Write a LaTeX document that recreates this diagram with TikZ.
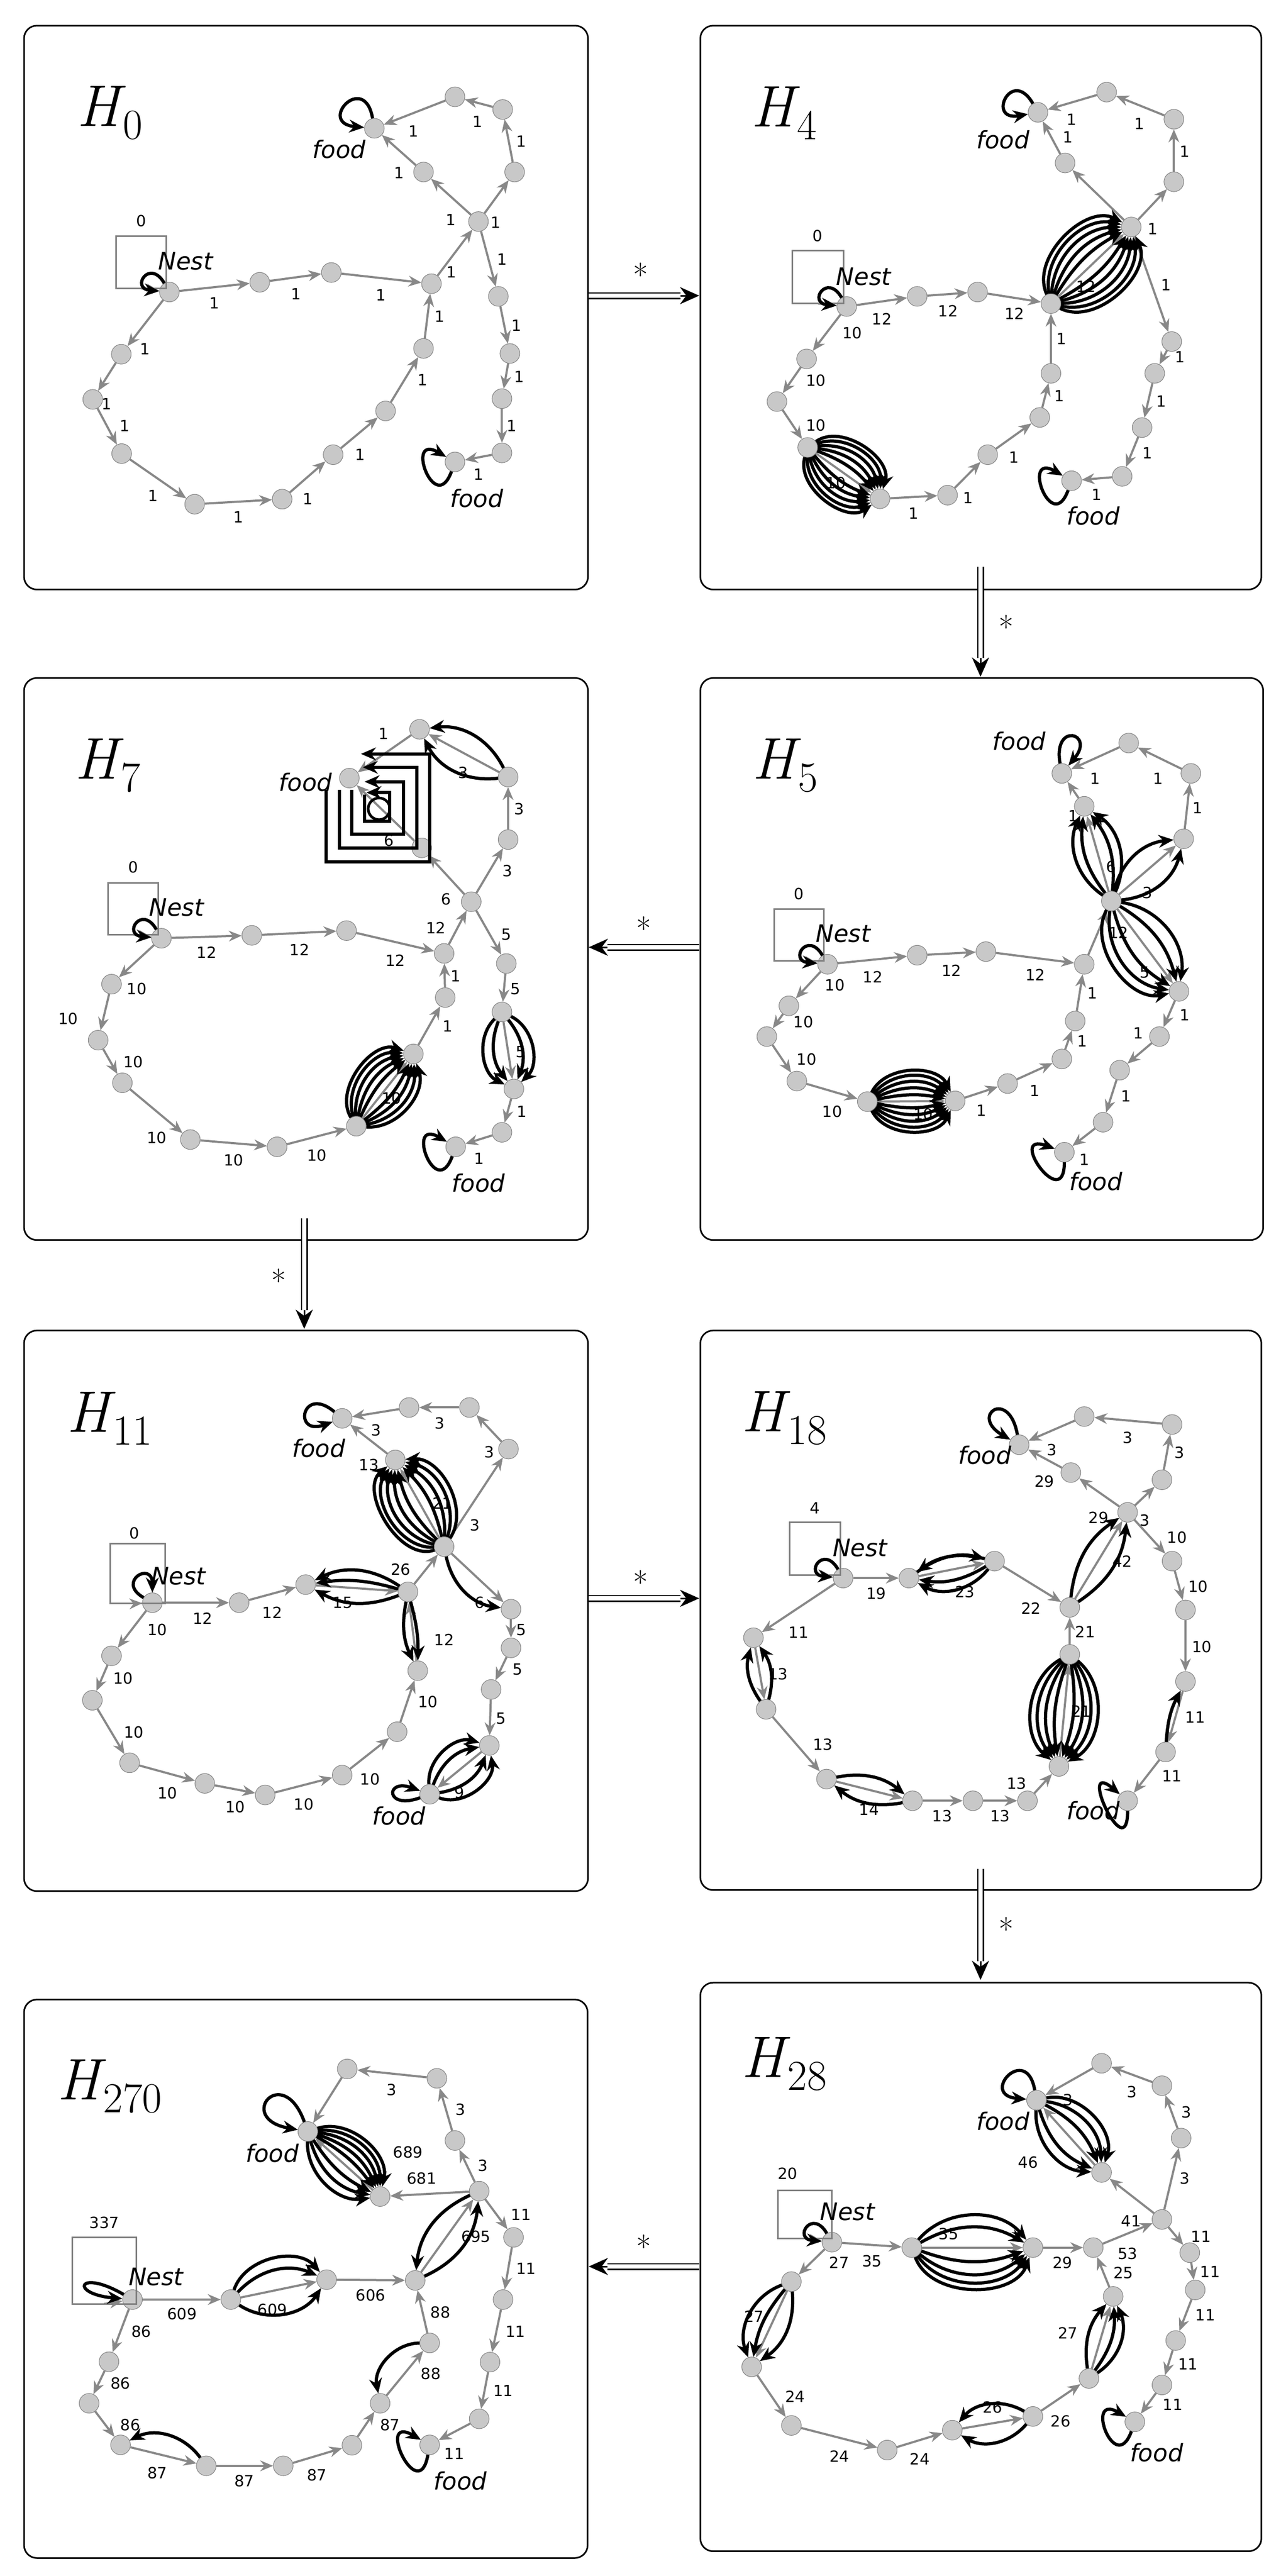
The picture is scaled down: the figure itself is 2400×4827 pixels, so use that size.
\documentclass[tikz,border=0pt]{standalone}
\usepackage{fontspec}
\setmainfont{Latin Modern Roman}
\setsansfont{DejaVu Sans}
\usetikzlibrary{arrows.meta,calc}
\definecolor{nodegray}{HTML}{C8C8C8}
\definecolor{edgegray}{HTML}{888888}
\newcounter{lc}
\tikzset{
 v/.style={circle,fill=nodegray,draw=gray,line width=1pt,minimum size=37pt,inner sep=0pt},
 e/.style={draw=edgegray,line width=4pt,-{Stealth[length=24pt,width=20pt]}},
 fan/.style={draw=black,line width=6pt,-{Stealth[length=28pt,width=24pt]}},
 lab/.style={font=\sffamily\fontsize{29}{29}\selectfont,inner sep=0pt},
 txt/.style={font=\sffamily\itshape\fontsize{45}{45}\selectfont,inner sep=0pt},
 ttl/.style={font=\fontsize{110}{120}\selectfont,inner sep=0pt},
 nbox/.style={draw=gray,line width=3pt},
 pbox/.style={draw=black,line width=3pt,rounded corners=24pt},
 dbl/.style={draw=black,double=white,line width=2.5pt,double distance=8pt},
 tip/.style={draw=black,line width=3pt,-{Stealth[length=36pt,width=32pt]}},
}
\newcommand\Ttl[1]{\textit{H}\kern-0.05em\raisebox{-0.22em}{\fontsize{80}{80}\selectfont #1}}
\newcommand\Nd[3]{\node[v] (#1) at (#2,#3) {};}
\newcommand\Ed[2]{\draw[e] (#1) -- (#2);}
\newcommand\Lb[3]{\stepcounter{lc}\node[lab] (lab\arabic{lc}) at (#1,#2) {#3};}
\newcommand\Fan[3]{\foreach \b in {#3}{\draw[fan] (#1) to[bend left=\b] (#2);}}
\newcommand\Lp[4]{\path (#1) edge[fan,out=#2,in=#3,looseness=8,min distance=#4pt] (#1);}
\newcommand\stdgraph[1]{%
\Ed{#1n0}{#1a1}\Ed{#1a1}{#1a2}\Ed{#1a2}{#1a3}\Ed{#1a3}{#1hub}%
\Ed{#1n0}{#1b1}\Ed{#1b1}{#1b2}\Ed{#1b2}{#1b3}\Ed{#1b3}{#1b4}\Ed{#1b4}{#1b5}%
\Ed{#1b5}{#1b6}\Ed{#1b6}{#1b7}\Ed{#1b7}{#1b8}\Ed{#1b8}{#1a3}%
\Ed{#1hub}{#1c1}\Ed{#1c1}{#1f1}\Ed{#1hub}{#1c2}\Ed{#1c2}{#1c3}\Ed{#1c3}{#1c4}\Ed{#1c4}{#1f1}%
\Ed{#1hub}{#1d1}\Ed{#1d1}{#1d2}\Ed{#1d2}{#1d3}\Ed{#1d3}{#1d4}\Ed{#1d4}{#1f2}}
\newcommand\Nest[9]{%
\draw[nbox] (#5,#6) rectangle (#7,#8);
\stepcounter{lc}\node[lab] (lab\arabic{lc}) at (#3,#4) {#2};
\coordinate (#1nb) at ($(#5,#8)!0.5!(#7,#8)$);
\draw[e] (#1nb) -- (#1n0);
\node[txt] (#1nest) at (#9,#8-75) {Nest};}
\begin{document}
\begin{tikzpicture}[x=1pt,y=-1pt]
\useasboundingbox (0,0) rectangle (2400,4827);
\def\sc{0.6773pt}
%%%%%%%%%%%%%%%% H0
\begin{scope}[shift={(43,46)},x=\sc,y=-\sc]
\draw[pbox] (3,3) rectangle (1563,1563);
\node[ttl] (At) at (240,245) {\Ttl{0}};
\Nd{An0}{405}{740}\Nd{Aa1}{655}{713}\Nd{Aa2}{853}{686}\Nd{Aa3}{1130}{717}\Nd{Ahub}{1260}{545}
\Nd{Ab1}{272}{912}\Nd{Ab2}{193}{1037}\Nd{Ab3}{273}{1187}\Nd{Ab4}{475}{1327}\Nd{Ab5}{717}{1313}
\Nd{Ab6}{858}{1190}\Nd{Ab7}{1003}{1069}\Nd{Ab8}{1108}{896}
\Nd{Ac1}{1108}{408}\Nd{Af1}{972}{287}\Nd{Ac2}{1360}{408}\Nd{Ac3}{1327}{235}\Nd{Ac4}{1195}{200}
\Nd{Ad1}{1315}{752}\Nd{Ad2}{1347}{910}\Nd{Ad3}{1325}{1035}\Nd{Ad4}{1325}{1185}\Nd{Af2}{1195}{1210}
\stdgraph{A}
\Nest{A}{0}{327}{543}{258}{585}{397}{730}{450}
\Lp{An0}{120}{175}{55}\Lp{Af1}{100}{175}{90}\Lp{Af2}{250}{150}{90}
\node[txt] (Aft1) at (875,345) {food};\node[txt] (Aft2) at (1255,1310) {food};
\Lb{530}{770}{1}\Lb{755}{745}{1}\Lb{990}{748}{1}\Lb{1185}{685}{1}\Lb{338}{897}{1}\Lb{232}{1050}{1}
\Lb{282}{1110}{1}\Lb{360}{1303}{1}\Lb{596}{1362}{1}\Lb{788}{1313}{1}\Lb{932}{1190}{1}\Lb{1105}{983}{1}
\Lb{1153}{808}{1}\Lb{1183}{540}{1}\Lb{1040}{410}{1}\Lb{1308}{548}{1}\Lb{1378}{323}{1}\Lb{1258}{268}{1}
\Lb{1080}{295}{1}\Lb{1325}{650}{1}\Lb{1365}{833}{1}\Lb{1372}{975}{1}\Lb{1352}{1110}{1}\Lb{1260}{1245}{1}
\end{scope}
%%%%%%%%%%%%%%%% H4
\begin{scope}[shift={(1310,46)},x=\sc,y=-\sc]
\draw[pbox] (3,3) rectangle (1555,1563);
\node[ttl] (Bt) at (235,245) {\Ttl{4}};
\Nd{Bn0}{408}{780}\Nd{Ba1}{603}{752}\Nd{Ba2}{770}{740}\Nd{Ba3}{973}{772}\Nd{Bhub}{1195}{560}
\Nd{Bb1}{297}{925}\Nd{Bb2}{215}{1043}\Nd{Bb3}{300}{1170}\Nd{Bb4}{500}{1312}\Nd{Bb5}{687}{1302}
\Nd{Bb6}{798}{1190}\Nd{Bb7}{942}{1087}\Nd{Bb8}{973}{965}
\Nd{Bc1}{1012}{383}\Nd{Bf1}{937}{243}\Nd{Bc2}{1313}{435}\Nd{Bc3}{1313}{262}\Nd{Bc4}{1127}{187}
\Nd{Bd1}{1307}{877}\Nd{Bd2}{1260}{965}\Nd{Bd3}{1225}{1115}\Nd{Bd4}{1170}{1250}\Nd{Bf2}{1030}{1262}
\stdgraph{B}
\Fan{Bb3}{Bb4}{15,29,43,57,71,-15,-29,-43,-57,-71}
\Fan{Ba3}{Bhub}{15,29,43,57,71,-15,-29,-43,-57,-71}
\Nest{B}{0}{328}{585}{258}{625}{400}{772}{455}
\Lp{Bn0}{120}{175}{55}\Lp{Bf1}{120}{190}{80}\Lp{Bf2}{250}{150}{90}
\node[txt] (Bft1) at (840,318) {food};\node[txt] (Bft2) at (1090,1360) {food};
\Lb{505}{815}{12}\Lb{688}{793}{12}\Lb{872}{800}{12}\Lb{1070}{725}{12}\Lb{423}{853}{10}\Lb{323}{985}{10}
\Lb{323}{1108}{10}\Lb{378}{1268}{10}\Lb{593}{1352}{1}\Lb{743}{1310}{1}\Lb{870}{1197}{1}\Lb{996}{1028}{1}
\Lb{1002}{870}{1}\Lb{1020}{312}{1}\Lb{1030}{263}{1}\Lb{1218}{275}{1}\Lb{1343}{352}{1}\Lb{1255}{565}{1}
\Lb{1292}{720}{1}\Lb{1330}{920}{1}\Lb{1278}{1042}{1}\Lb{1240}{1185}{1}\Lb{1100}{1300}{1}
\end{scope}
%%%%%%%%%%%%%%%% H7
\begin{scope}[shift={(43,1265)},x=\sc,y=-\sc]
\draw[pbox] (3,8) rectangle (1563,1563);
\node[ttl] (Ct) at (235,250) {\Ttl{7}};
\Nd{Cn0}{383}{728}\Nd{Ca1}{633}{720}\Nd{Ca2}{895}{707}\Nd{Ca3}{1165}{770}\Nd{Chub}{1240}{627}
\Nd{Cb1}{245}{855}\Nd{Cb2}{208}{1010}\Nd{Cb3}{275}{1128}\Nd{Cb4}{463}{1285}\Nd{Cb5}{703}{1305}
\Nd{Cb6}{922}{1248}\Nd{Cb7}{1080}{1048}\Nd{Cb8}{1168}{892}
\Nd{Cc1}{1103}{478}\Nd{Cf1}{903}{285}\Nd{Cc2}{1342}{455}\Nd{Cc3}{1342}{282}\Nd{Cc4}{1097}{150}
\Nd{Cd1}{1337}{798}\Nd{Cd2}{1325}{932}\Nd{Cd3}{1358}{1145}\Nd{Cd4}{1325}{1265}\Nd{Cf2}{1197}{1305}
\stdgraph{C}
\Fan{Cb6}{Cb7}{14,28,42,56,70,-14,-28,-42,-56}
\Fan{Cd2}{Cd3}{30,55,-30,-55}
\Fan{Cc3}{Cc4}{35,-35}
\draw[fan] (838,318)--(838,517)--(1125,517)--(1125,218)--(935,218);
\draw[fan] (875,318)--(875,478)--(1090,478)--(1090,255)--(940,255);
\draw[fan] (910,318)--(910,440)--(1053,440)--(1053,295)--(945,295);
\draw[fan] (945,330)--(945,405)--(1015,405)--(1015,325)--(950,325);
\draw[black,line width=5pt] (985,370) circle (30);
\Nest{C}{0}{305}{532}{235}{575}{375}{718}{425}
\Lp{Cn0}{120}{175}{55}\Lp{Cf2}{250}{150}{80}
\node[txt] (Cft1) at (782,297) {food};\node[txt] (Cft2) at (1260,1405) {food};
\Lb{508}{767}{12}\Lb{765}{760}{12}\Lb{1030}{790}{12}\Lb{1142}{700}{12}\Lb{315}{868}{10}\Lb{125}{950}{10}
\Lb{305}{1070}{10}\Lb{370}{1280}{10}\Lb{583}{1342}{10}\Lb{813}{1328}{10}\Lb{1020}{1170}{10}\Lb{1175}{972}{1}
\Lb{1197}{833}{1}\Lb{1170}{620}{6}\Lb{1013}{458}{6}\Lb{1340}{542}{3}\Lb{1372}{370}{3}\Lb{1218}{270}{3}
\Lb{998}{162}{1}\Lb{1337}{717}{5}\Lb{1362}{868}{5}\Lb{1377}{1042}{5}\Lb{1380}{1208}{1}\Lb{1262}{1337}{1}
\end{scope}
%%%%%%%%%%%%%%%% H5
\begin{scope}[shift={(1310,1265)},x=\sc,y=-\sc]
\draw[pbox] (3,8) rectangle (1560,1563);
\node[ttl] (Dt) at (238,250) {\Ttl{5}};
\Nd{Dn0}{355}{800}\Nd{Da1}{603}{775}\Nd{Da2}{793}{765}\Nd{Da3}{1065}{800}\Nd{Dhub}{1140}{625}
\Nd{Db1}{248}{915}\Nd{Db2}{187}{1000}\Nd{Db3}{270}{1123}\Nd{Db4}{465}{1180}\Nd{Db5}{708}{1178}
\Nd{Db6}{853}{1130}\Nd{Db7}{1003}{1062}\Nd{Db8}{1040}{957}
\Nd{Dc1}{1065}{363}\Nd{Df1}{1003}{272}\Nd{Dc2}{1340}{453}\Nd{Dc3}{1360}{272}\Nd{Dc4}{1188}{188}
\Nd{Dd1}{1327}{875}\Nd{Dd2}{1273}{1000}\Nd{Dd3}{1163}{1093}\Nd{Dd4}{1117}{1237}\Nd{Df2}{1010}{1320}
\stdgraph{D}
\Fan{Db4}{Db5}{12,25,38,51,64,-12,-25,-38,-51,-64}
\Fan{Dhub}{Dc1}{22,40,-22,-40}
\Fan{Dhub}{Dc2}{35,-35}
\Fan{Dhub}{Dd1}{22,45,-22,-45,-65}
\Nest{D}{0}{275}{605}{207}{647}{345}{790}{398}
\Lp{Dn0}{120}{175}{55}\Lp{Df1}{100}{50}{80}\Lp{Df2}{270}{160}{90}
\node[txt] (Dft1) at (885,183) {food};\node[txt] (Dft2) at (1097,1400) {food};
\Lb{480}{835}{12}\Lb{698}{818}{12}\Lb{930}{830}{12}\Lb{1160}{712}{12}\Lb{375}{858}{10}\Lb{288}{960}{10}
\Lb{297}{1063}{10}\Lb{368}{1208}{10}\Lb{620}{1215}{10}\Lb{780}{1205}{1}\Lb{928}{1150}{1}\Lb{1060}{1012}{1}
\Lb{1087}{880}{1}\Lb{1035}{390}{1}\Lb{1140}{530}{6}\Lb{1095}{287}{1}\Lb{1270}{287}{1}\Lb{1378}{367}{1}
\Lb{1240}{602}{3}\Lb{1233}{822}{5}\Lb{1343}{940}{1}\Lb{1215}{990}{1}\Lb{1180}{1165}{1}\Lb{1065}{1340}{1}
\end{scope}
%%%%%%%%%%%%%%%% H11
\begin{scope}[shift={(43,2485)},x=\sc,y=-\sc]
\draw[pbox] (3,12) rectangle (1563,1563);
\node[ttl] (Et) at (240,255) {\Ttl{11}};
\Nd{En0}{358}{765}\Nd{Ea1}{598}{765}\Nd{Ea2}{782}{715}\Nd{Ea3}{1065}{735}\Nd{Ehub}{1165}{610}
\Nd{Eb1}{245}{912}\Nd{Eb2}{192}{1035}\Nd{Eb3}{295}{1208}\Nd{Eb4}{503}{1265}\Nd{Eb5}{670}{1297}
\Nd{Eb6}{883}{1242}\Nd{Eb7}{1035}{1122}\Nd{Eb8}{1092}{953}
\Nd{Ec1}{1030}{370}\Nd{Ef1}{883}{255}\Nd{Ec2}{1343}{340}\Nd{Ec3}{1235}{225}\Nd{Ec4}{1068}{225}
\Nd{Ed1}{1350}{783}\Nd{Ed2}{1350}{890}\Nd{Ed3}{1295}{1005}\Nd{Ed4}{1290}{1160}\Nd{Ef2}{1125}{1295}
\stdgraph{E}
\Fan{Ehub}{Ec1}{16,32,48,64,80,-16,-32,-48,-64}
\Fan{Ehub}{Ed1}{-35}
\Fan{Ea3}{Ea2}{25,-12,-30}
\Fan{Ea3}{Eb8}{8,-18}
\Fan{Ef2}{Ed4}{30,55,-30,-60}
\Nest{E}{0}{308}{572}{242}{602}{393}{767}{430}
\Lp{En0}{150}{90}{60}\Lp{Ef1}{140}{200}{80}\Lp{Ef2}{200}{160}{70}
\node[txt] (Eft1) at (818,338) {food};\node[txt] (Eft2) at (1040,1355) {food};
\Lb{497}{808}{12}\Lb{690}{793}{12}\Lb{885}{765}{15}\Lb{1045}{673}{26}\Lb{372}{840}{10}\Lb{277}{975}{10}
\Lb{307}{1123}{10}\Lb{400}{1292}{10}\Lb{587}{1330}{10}\Lb{777}{1322}{10}\Lb{960}{1253}{10}\Lb{1120}{1040}{10}
\Lb{1165}{868}{12}\Lb{957}{383}{13}\Lb{977}{288}{3}\Lb{1160}{490}{21}\Lb{1250}{550}{3}\Lb{1290}{348}{3}
\Lb{1153}{268}{3}\Lb{1263}{765}{6}\Lb{1378}{840}{5}\Lb{1368}{950}{5}\Lb{1322}{1085}{5}\Lb{1207}{1290}{9}
\end{scope}
%%%%%%%%%%%%%%%% H18
\begin{scope}[shift={(1310,2485)},x=\sc,y=-\sc]
\draw[pbox] (3,12) rectangle (1555,1560);
\node[ttl] (Ft) at (235,255) {\Ttl{18}};
\Nd{Fn0}{398}{697}\Nd{Fa1}{580}{697}\Nd{Fa2}{817}{650}\Nd{Fa3}{1025}{778}\Nd{Fhub}{1185}{515}
\Nd{Fb1}{150}{862}\Nd{Fb2}{185}{1060}\Nd{Fb3}{352}{1253}\Nd{Fb4}{590}{1313}\Nd{Fb5}{757}{1313}
\Nd{Fb6}{908}{1313}\Nd{Fb7}{995}{1218}\Nd{Fb8}{1025}{908}
\Nd{Fc1}{1028}{405}\Nd{Ff1}{885}{328}\Nd{Fc2}{1280}{425}\Nd{Fc3}{1308}{272}\Nd{Fc4}{1065}{250}
\Nd{Fd1}{1308}{650}\Nd{Fd2}{1345}{785}\Nd{Fd3}{1345}{983}\Nd{Fd4}{1290}{1178}\Nd{Ff2}{1185}{1313}
\stdgraph{F}
\Fan{Fa2}{Fa1}{20,40,-25}
\Fan{Fa1}{Fa2}{25}
\Fan{Fa3}{Fhub}{25,-25}
\Fan{Fb2}{Fb1}{25,-25}
\Fan{Fb3}{Fb4}{25}\Fan{Fb4}{Fb3}{25}
\Fan{Fb8}{Fb7}{14,28,42,56,-14,-28,-42,-56}
\Fan{Fd4}{Fd3}{12}
\Nest{F}{4}{320}{503}{250}{543}{390}{688}{445}
\Lp{Fn0}{120}{175}{55}\Lp{Ff1}{100}{150}{90}\Lp{Ff2}{270}{140}{80}
\node[txt] (Fft1) at (790,357) {food};\node[txt] (Fft2) at (1090,1340) {food};
\Lb{490}{740}{19}\Lb{735}{735}{23}\Lb{918}{780}{22}\Lb{1105}{530}{29}\Lb{1170}{650}{42}\Lb{275}{847}{11}
\Lb{218}{962}{13}\Lb{342}{1158}{13}\Lb{470}{1337}{14}\Lb{672}{1355}{13}\Lb{832}{1355}{13}\Lb{878}{1265}{13}
\Lb{1057}{1065}{21}\Lb{1068}{845}{21}\Lb{955}{430}{29}\Lb{975}{343}{3}\Lb{1232}{537}{3}\Lb{1328}{350}{3}
\Lb{1185}{308}{3}\Lb{1322}{585}{10}\Lb{1380}{720}{10}\Lb{1390}{887}{10}\Lb{1372}{1082}{11}\Lb{1308}{1245}{11}
\end{scope}
%%%%%%%%%%%%%%%% H270
\begin{scope}[shift={(43,3740)},x=\sc,y=-\sc]
\draw[pbox] (3,10) rectangle (1562,1555);
\node[ttl] (Gt) at (240,250) {\Ttl{270}};
\Nd{Gn0}{303}{840}\Nd{Ga1}{575}{840}\Nd{Ga2}{840}{785}\Nd{Ga3}{1085}{787}\Nd{Ghub}{1262}{540}
\Nd{Gb1}{238}{1012}\Nd{Gb2}{183}{1127}\Nd{Gb3}{270}{1242}\Nd{Gb4}{507}{1300}\Nd{Gb5}{720}{1300}
\Nd{Gb6}{910}{1243}\Nd{Gb7}{988}{1127}\Nd{Gb8}{1125}{960}
\Nd{Gc1}{988}{555}\Nd{Gf1}{788}{375}\Nd{Gc2}{1195}{400}\Nd{Gc3}{1145}{228}\Nd{Gc4}{897}{202}
\Nd{Gd1}{1357}{668}\Nd{Gd2}{1328}{840}\Nd{Gd3}{1292}{1013}\Nd{Gd4}{1262}{1170}\Nd{Gf2}{1125}{1242}
\stdgraph{G}
\Fan{Gf1}{Gc1}{12,24,36,48,60,-15,-32,-50}
\Fan{Ga1}{Ga2}{35,60,-45}
\Fan{Ga3}{Ghub}{-30}\Fan{Ghub}{Ga3}{-30}
\Fan{Gb4}{Gb3}{-40}
\Fan{Gb8}{Gb7}{-50}
\Nest{G}{337}{225}{627}{137}{668}{313}{852}{368}
\Lp{Gn0}{150}{175}{100}\Lp{Gf1}{110}{170}{120}\Lp{Gf2}{260}{150}{100}
\node[txt] (Gft1) at (690,435) {food};\node[txt] (Gft2) at (1210,1342) {food};
\Lb{440}{880}{609}\Lb{690}{868}{609}\Lb{962}{828}{606}\Lb{1253}{665}{695}\Lb{327}{928}{86}\Lb{270}{1072}{86}
\Lb{297}{1187}{86}\Lb{372}{1320}{87}\Lb{612}{1342}{87}\Lb{813}{1325}{87}\Lb{1015}{1187}{87}\Lb{1128}{1045}{88}
\Lb{1155}{875}{88}\Lb{1103}{505}{681}\Lb{1065}{432}{689}\Lb{1273}{470}{3}\Lb{1210}{315}{3}\Lb{1020}{260}{3}
\Lb{1378}{605}{11}\Lb{1392}{755}{11}\Lb{1362}{928}{11}\Lb{1328}{1093}{11}\Lb{1193}{1267}{11}
\end{scope}
%%%%%%%%%%%%%%%% H28
\begin{scope}[shift={(1310,3705)},x=\sc,y=-\sc]
\draw[pbox] (3,15) rectangle (1555,1588);
\node[ttl] (Kt) at (235,240) {\Ttl{28}};
\Nd{Kn0}{367}{733}\Nd{Ka1}{588}{748}\Nd{Ka2}{923}{748}\Nd{Ka3}{1090}{748}\Nd{Khub}{1280}{670}
\Nd{Kb1}{255}{842}\Nd{Kb2}{145}{1078}\Nd{Kb3}{255}{1240}\Nd{Kb4}{520}{1308}\Nd{Kb5}{700}{1253}
\Nd{Kb6}{923}{1215}\Nd{Kb7}{1078}{1110}\Nd{Kb8}{1145}{883}
\Nd{Kc1}{1113}{540}\Nd{Kf1}{933}{340}\Nd{Kc2}{1333}{445}\Nd{Kc3}{1280}{300}\Nd{Kc4}{1113}{238}
\Nd{Kd1}{1357}{762}\Nd{Kd2}{1372}{865}\Nd{Kd3}{1318}{1005}\Nd{Kd4}{1280}{1128}\Nd{Kf2}{1205}{1230}
\stdgraph{K}
\Fan{Kf1}{Kc1}{20,40,60,-25,-45}
\Fan{Ka1}{Ka2}{30,50,-20,-40,-55,-70}
\Fan{Kb1}{Kb2}{30,-15,-45}
\Fan{Kb6}{Kb5}{40,-40}
\Fan{Kb7}{Kb8}{25,-20,-40}
\Nest{K}{20}{245}{543}{218}{590}{367}{723}{410}
\Lp{Kn0}{120}{175}{55}\Lp{Kf1}{100}{175}{90}\Lp{Kf2}{250}{150}{80}
\node[txt] (Kft1) at (840,398) {food};\node[txt] (Kft2) at (1265,1315) {food};
\Lb{478}{785}{35}\Lb{690}{710}{35}\Lb{1005}{790}{29}\Lb{1195}{675}{41}\Lb{1185}{765}{53}\Lb{387}{790}{27}
\Lb{152}{938}{27}\Lb{265}{1160}{24}\Lb{388}{1325}{24}\Lb{610}{1333}{24}\Lb{812}{1190}{26}\Lb{1000}{1228}{26}
\Lb{1020}{985}{27}\Lb{1173}{818}{25}\Lb{910}{512}{46}\Lb{1020}{340}{3}\Lb{1343}{557}{3}\Lb{1348}{373}{3}
\Lb{1197}{318}{3}\Lb{1388}{718}{11}\Lb{1413}{815}{11}\Lb{1400}{935}{11}\Lb{1352}{1070}{11}\Lb{1310}{1183}{11}
\end{scope}
%%%%%%%%%%%%%%%% transitions
\foreach \n/\sx/\sy/\tx/\ty/\mx/\my/\px/\py in {
 1/1103/554/1310/554/1275/554/1200/515,
 2/1837/1062/1837/1268/1837/1233/1885/1175,
 3/1310/1775/1103/1775/1138/1775/1206/1740,
 4/570/2283/570/2490/570/2455/522/2400,
 5/1103/2995/1310/2995/1275/2995/1200/2965,
 6/1837/3502/1837/3710/1837/3675/1885/3615,
 7/1310/4247/1103/4247/1138/4247/1206/4210}{
 \coordinate (s\n) at (\sx,\sy);
 \coordinate (t\n) at (\tx,\ty);
 \coordinate (m\n) at (\mx,\my);
 \draw[dbl] (s\n) -- (m\n);
 \draw[tip] (m\n) -- (t\n);
 \node[font=\fontsize{60}{60}\selectfont,inner sep=0pt] (star\n) at (\px,\py) {*};
}
\end{tikzpicture}
\end{document}
